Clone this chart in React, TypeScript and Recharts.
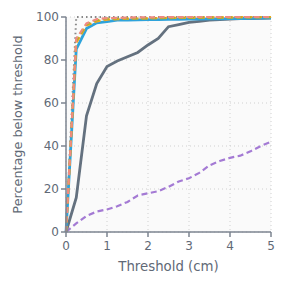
import { LineChart, Line, XAxis, YAxis, CartesianGrid } from 'recharts';

const thresholds = [0, 0.25, 0.5, 0.75, 1, 1.25, 1.5, 1.75, 2, 2.25, 2.5, 2.75, 3, 3.25, 3.5, 3.75, 4, 4.25, 4.5, 4.75, 5];

const ideal = [0, 100, 100, 100, 100, 100, 100, 100, 100, 100, 100, 100, 100, 100, 100, 100, 100, 100, 100, 100, 100];
const slate = [0, 16, 54, 69, 77, 79.5, 81.5, 83.5, 87, 90, 95.5, 96.5, 97.5, 98, 98.5, 98.8, 99, 99.2, 99.3, 99.4, 99.5];
const purple = [0, 4, 7.5, 9.5, 10.5, 12, 14, 17, 18, 19, 21, 23.5, 25, 27.5, 31, 33, 34.5, 35.5, 37.5, 40, 42];
const orange = [0, 88, 96, 98, 98.8, 99, 99.2, 99.3, 99.4, 99.5, 99.6, 99.6, 99.7, 99.7, 99.8, 99.8, 99.8, 99.9, 99.9, 99.9, 100];
const olive = [0, 89, 96.5, 98.5, 99.2, 99.3, 99.3, 99.4, 99.4, 99.5, 99.5, 99.6, 99.6, 99.7, 99.7, 99.7, 99.8, 99.8, 99.8, 99.9, 99.9];
const salmon = [0, 90, 97, 99, 99.5, 99.6, 99.7, 99.8, 99.8, 99.9, 99.9, 99.9, 100, 100, 100, 100, 100, 100, 100, 100, 100];
const blue = [0, 85, 94.6, 97.3, 97.8, 98.5, 98.6, 98.7, 98.8, 98.8, 98.9, 98.9, 99, 99, 99.1, 99.1, 99.2, 99.3, 99.4, 99.5, 99.6];

const xTicks = [0, 1, 2, 3, 4, 5];
const yTicks = [0, 20, 40, 60, 80, 100];

const data = thresholds.map((t, i) => ({
  t,
  ideal: ideal[i],
  slate: slate[i],
  purple: purple[i],
  orange: orange[i],
  olive: olive[i],
  salmon: salmon[i],
  blue: blue[i],
}));

const tickStyle = { fontSize: 12, fill: '#616976', fontFamily: 'DejaVu Sans' };
const axisColor = '#7d8590';

export default function App() {
  return (
    <div style={{ position: 'absolute', left: 0, top: 0, fontFamily: 'DejaVu Sans' }}>
      <LineChart width={287} height={287} data={data} margin={{ top: 17, right: 16, bottom: 10, left: 0 }}>
        <CartesianGrid stroke="#d0d0d0" strokeDasharray="1 3" fill="#fafafa" />
        <XAxis
          dataKey="t"
          type="number"
          domain={[0, 5]}
          ticks={xTicks}
          tick={tickStyle}
          stroke={axisColor}
          strokeWidth={1.5}
          tickSize={5}
          tickMargin={4}
          height={45}
          label={{ value: 'Threshold (cm)', position: 'insideBottom', offset: 6, style: { ...tickStyle, fontSize: 13.3 } }}
        />
        <YAxis
          type="number"
          domain={[0, 100]}
          ticks={yTicks}
          width={66}
          tick={tickStyle}
          stroke={axisColor}
          strokeWidth={1.5}
          tickSize={5}
          label={{ value: 'Percentage below threshold', angle: -90, position: 'insideLeft', offset: 17, style: { ...tickStyle, fontSize: 12.8, textAnchor: 'middle' } }}
        />
        <Line dataKey="purple" stroke="#a47ad4" strokeWidth={2.2} strokeDasharray="6 3.5" dot={false} isAnimationActive={false} />
        <Line dataKey="ideal" stroke="#888888" strokeWidth={2} strokeDasharray="1.5 3" dot={false} isAnimationActive={false} />
        <Line dataKey="slate" stroke="#64717f" strokeWidth={2.8} dot={false} isAnimationActive={false} />
        <Line dataKey="blue" stroke="#2ea3db" strokeWidth={2.8} dot={false} isAnimationActive={false} />
        <Line dataKey="orange" stroke="#f5a31f" strokeWidth={2.2} strokeDasharray="6 3.5" dot={false} isAnimationActive={false} />
        <Line dataKey="olive" stroke="#b0b326" strokeWidth={2.2} strokeDasharray="6 3.5" dot={false} isAnimationActive={false} />
        <Line dataKey="salmon" stroke="#f08a80" strokeWidth={2.2} strokeDasharray="6 3.5" dot={false} isAnimationActive={false} />
      </LineChart>
    </div>
  );
}
